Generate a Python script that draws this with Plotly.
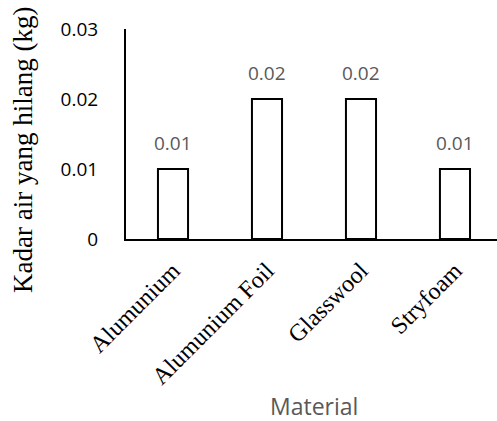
import plotly.graph_objects as go

categories = ["Alumunium", "Alumunium Foil", "Glasswool", "Stryfoam"]
values = [0.01, 0.02, 0.02, 0.01]
value_labels = ["0.01", "0.02", "0.02", "0.01"]
y_ticks = [0, 0.01, 0.02, 0.03]
y_tick_labels = ["0", "0.01", "0.02", "0.03"]

fig = go.Figure()
fig.add_trace(go.Bar(
    x=categories, y=values, width=0.32,
    marker=dict(color="white", line=dict(color="black", width=2)),
    showlegend=False, hoverinfo="skip",
))

for c, v, t in zip(categories, values, value_labels):
    fig.add_annotation(x=c, y=v, text=t, showarrow=False, yanchor="bottom",
                       yshift=11, font=dict(family="Open Sans", size=19, color="#595959"))

fig.add_annotation(xref="paper", yref="paper", x=(23 - 126) / 371, y=(239 - 150) / 210,
                   text="Kadar air yang hilang (kg)", textangle=-90, showarrow=False,
                   xanchor="center", yanchor="middle",
                   font=dict(family="Liberation Serif", size=27, color="black"))
fig.add_annotation(xref="paper", yref="paper", x=(314 - 126) / 371, y=(239 - 406) / 210,
                   text="Material", showarrow=False, xanchor="center", yanchor="middle",
                   font=dict(family="Open Sans", size=23, color="#595959"))

fig.update_layout(
    width=497, height=421,
    margin=dict(l=126, r=0, t=29, b=182),
    plot_bgcolor="white", paper_bgcolor="white",
    xaxis=dict(range=[-0.5, 3.447], tickangle=-45, showline=True, linecolor="black",
               linewidth=2, ticks="", showgrid=False, ticklabelstandoff=6,
               tickfont=dict(family="Liberation Serif", size=24, color="black")),
    yaxis=dict(range=[0, 0.03], tickvals=y_ticks, ticktext=y_tick_labels,
               showline=True, linecolor="black", linewidth=2, ticks="", showgrid=False,
               zeroline=False, ticklabelstandoff=22,
               tickfont=dict(family="Open Sans", size=19, color="black")),
    bargap=0.68,
)

fig.write_html("out.html")
